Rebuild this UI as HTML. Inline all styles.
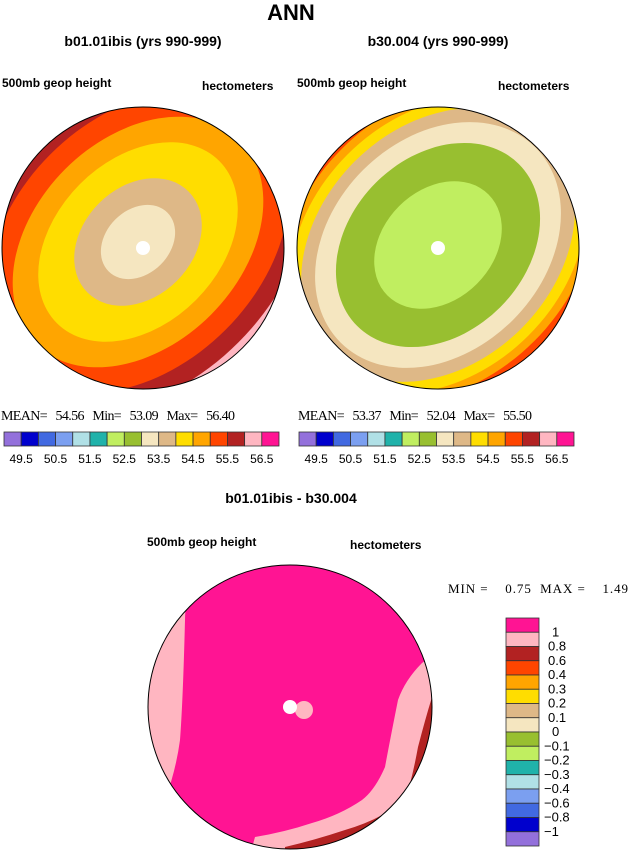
<!DOCTYPE html>
<html><head><meta charset="utf-8"><style>
body{margin:0;background:#fff;width:629px;height:850px;overflow:hidden;font-family:"Liberation Sans",sans-serif}
svg{position:absolute;left:0;top:0}
</style></head><body>
<svg width="629" height="850" id="fig">
<defs>
<clipPath id="c1"><circle cx="143" cy="248" r="141"/></clipPath>
<clipPath id="c2"><circle cx="438" cy="248" r="141"/></clipPath>
<clipPath id="c3"><circle cx="290" cy="707" r="142"/></clipPath>
</defs>
<text x="291" y="20" font-size="22" font-weight="bold" text-anchor="middle">ANN</text>
<text x="143" y="46" font-size="14" font-weight="bold" text-anchor="middle">b01.01ibis (yrs 990-999)</text>
<text x="438" y="46" font-size="14" font-weight="bold" text-anchor="middle">b30.004 (yrs 990-999)</text>
<text x="2" y="87" font-size="12" font-weight="bold">500mb geop height</text>
<text x="202" y="90" font-size="12" font-weight="bold">hectometers</text>
<text x="297" y="87" font-size="12" font-weight="bold">500mb geop height</text>
<text x="498" y="90" font-size="12" font-weight="bold">hectometers</text>
<g id="m1" clip-path="url(#c1)"></g>
<g id="m2" clip-path="url(#c2)"></g>
<g clip-path="url(#c3)">
<rect x="140" y="560" width="300" height="295" fill="#ff1493"/>
<path d="M140 560 L195 560 Q185 600 185 620 Q183 700 180 740 Q176 770 165 800 L140 810Z" fill="#ffb6c1"/>
<path d="M440 650 L422 663 Q405 680 398 700 Q390 740 385 767 Q375 790 362 800 Q340 815 312 823 Q285 832 255 837 L250 855 L440 855Z" fill="#ffb6c1"/>
<path d="M440 680 L432 697 Q425 720 418 747 Q412 780 405 800 Q380 820 345 830 Q315 840 285 847 L285 855 L440 855Z" fill="#b22222"/>
<circle cx="304" cy="710" r="9" fill="#ffb6c1"/>
</g>
<circle cx="143" cy="248" r="141" fill="none" stroke="#000"/>
<circle cx="438" cy="248" r="141" fill="none" stroke="#000"/>
<circle cx="290" cy="707" r="142" fill="none" stroke="#000"/>
<circle cx="143" cy="248" r="7" fill="#fff"/><circle cx="438" cy="248" r="7" fill="#fff"/><circle cx="290" cy="707" r="7" fill="#fff"/>
<g font-family="Liberation Serif" font-size="14">
<text x="1" y="420" textLength="234">MEAN=&#160;&#160;&#160;54.56&#160;&#160;&#160;Min=&#160;&#160;&#160;53.09&#160;&#160;&#160;Max=&#160;&#160;&#160;56.40</text>
<text x="298" y="420" textLength="234">MEAN=&#160;&#160;&#160;53.37&#160;&#160;&#160;Min=&#160;&#160;&#160;52.04&#160;&#160;&#160;Max=&#160;&#160;&#160;55.50</text>
<text x="448" y="593" font-size="13" textLength="180">MIN =&#160;&#160;&#160;&#160;0.75&#160;&#160;MAX =&#160;&#160;&#160;&#160;1.49</text>
</g>
<text x="291" y="503" font-size="14" font-weight="bold" text-anchor="middle">b01.01ibis - b30.004</text>
<text x="147" y="546" font-size="12" font-weight="bold">500mb geop height</text>
<text x="350" y="549" font-size="12" font-weight="bold">hectometers</text>
<g id="cb"></g>
</svg>
<script>
const colors=["#9370db","#0000cd","#4169e1","#7b9ff0","#b0e0e6","#20b2aa","#c0ee60","#98bf30","#f5e6c0","#deb887","#ffdd00","#ffa500","#ff4500","#b22222","#ffb6c1","#ff1493"];
const topTicks=["49.5","50.5","51.5","52.5","53.5","54.5","55.5","56.5"];
const diffTicks=["1","0.8","0.6","0.4","0.3","0.2","0.1","0","\u22120.1","\u22120.2","\u22120.3","\u22120.4","\u22120.6","\u22120.8","\u22121"];
// band color indices and half-widths (minor axis px) outer->inner
const map1Idx=[13,12,11,10,9,8];
const map1B=[142,124,103,82,55,32];
const map2Idx=[14,13,12,11,10,9,8,7,6];
const map2B=[158,150,143,136,128,118,106,88,55];
const NS="http://www.w3.org/2000/svg";
function el(t,a,p){const e=document.createElementNS(NS,t);for(const k in a)e.setAttribute(k,a[k]);p.appendChild(e);return e;}
function drawMap(id,cx,cy,bg,idx,bs,ox,oy,ratio){
 const g=document.getElementById(id);
 el('rect',{x:cx-150,y:cy-150,width:300,height:300,fill:colors[bg]},g);
 idx.forEach((ci,i)=>{
  const b=bs[i];const a=b*(i>=idx.length-2?1.3:ratio);
  const e=el('ellipse',{cx:cx+ox,cy:cy+oy,rx:a,ry:b,fill:colors[ci],transform:`rotate(-45 ${cx+ox} ${cy+oy})`},g);
  
  
 });
}
drawMap('m1',143,248,14,map1Idx,map1B,-5,-6,1.4);
drawMap('m2',438,248,15,map2Idx,map2B,0,-3,1.3);
const cb=document.getElementById('cb');
function hbar(x0,w){
 const bw=w/colors.length;
 colors.forEach((c,i)=>{
  const r=el('rect',{x:x0+i*bw,y:432,width:bw,height:14,fill:c,stroke:'#333','stroke-width':0.8},cb);
  
  
 });
 topTicks.forEach((t,i)=>{
  const tx=el('text',{x:x0+(2*i+1)*bw,y:463,'font-size':12,'text-anchor':'middle'},cb);
  tx.textContent=t;
  
  
 });
}
hbar(4,275);hbar(299,275);
const vh=228/colors.length;
colors.slice().reverse().forEach((c,i)=>{
 const r=el('rect',{x:506,y:618+i*vh,width:33,height:vh,fill:c,stroke:'#333','stroke-width':0.8},cb);
 
 
});
diffTicks.forEach((t,i)=>{
 const tx=el('text',{x:t.startsWith('\u2212')?544:t.length>1?548:552,y:618+(i+1)*vh+4,'font-size':13},cb);
 tx.textContent=t;
 
 
});
</script>
</body></html>
